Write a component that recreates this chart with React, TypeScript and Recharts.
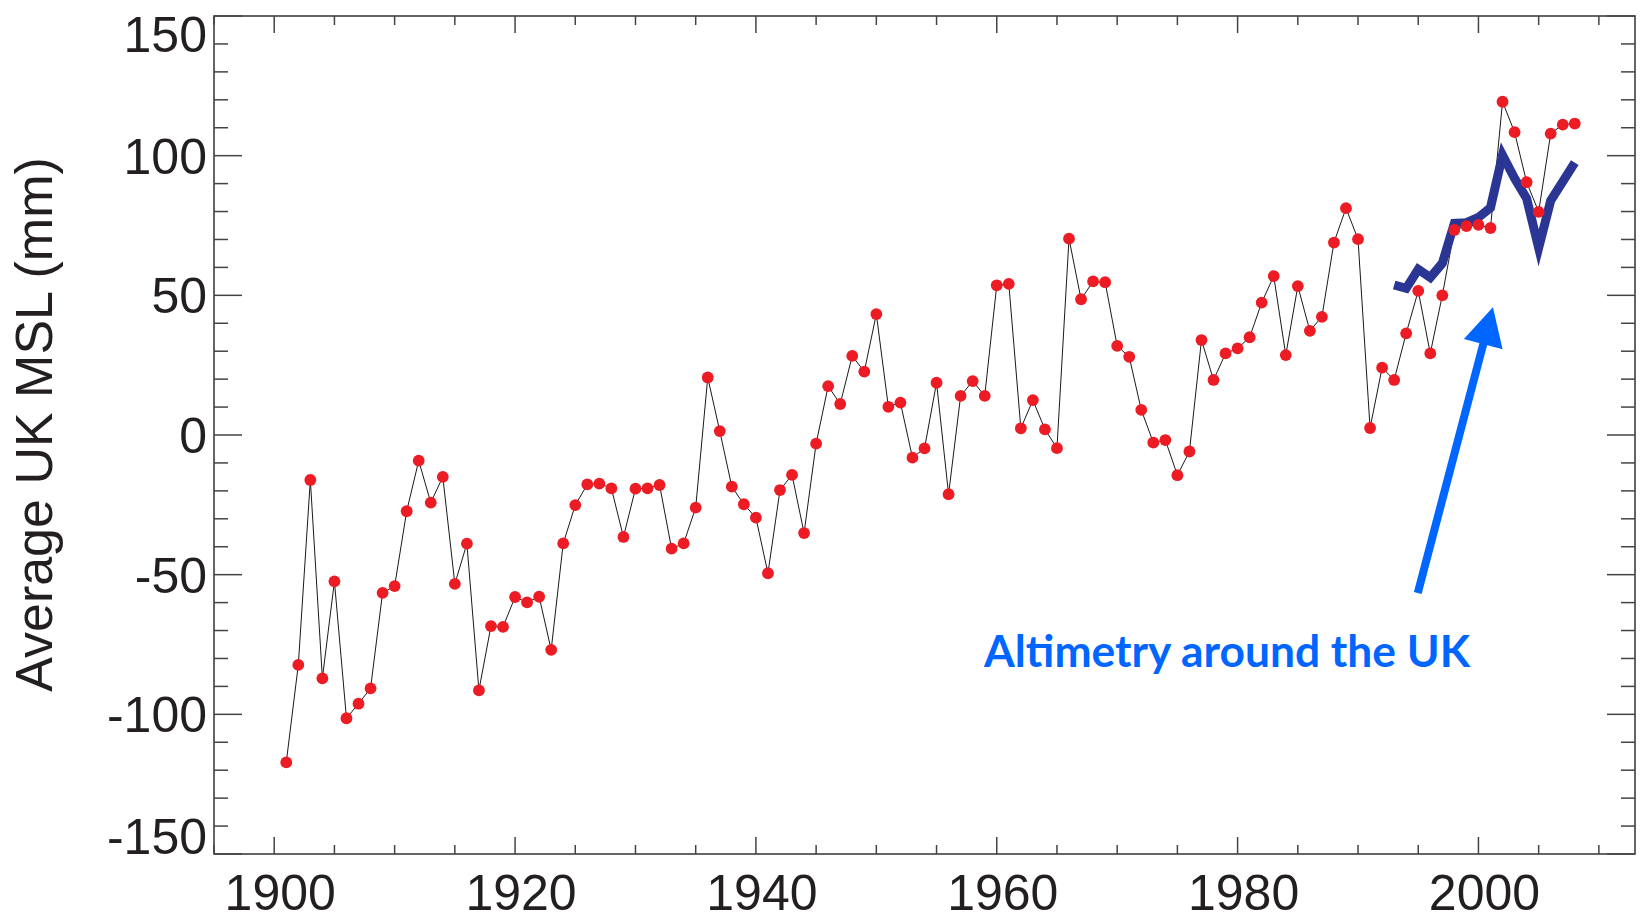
import React from 'react';
import {
  ComposedChart,
  Line,
  XAxis,
  YAxis,
  ReferenceArea,
  ReferenceLine,
  ReferenceDot,
  Label,
} from 'recharts';

// ---------- data ----------
const YEARS = [
  1901, 1902, 1903, 1904, 1905, 1906, 1907, 1908, 1909, 1910,
  1911, 1912, 1913, 1914, 1915, 1916, 1917, 1918, 1919, 1920,
  1921, 1922, 1923, 1924, 1925, 1926, 1927, 1928, 1929, 1930,
  1931, 1932, 1933, 1934, 1935, 1936, 1937, 1938, 1939, 1940,
  1941, 1942, 1943, 1944, 1945, 1946, 1947, 1948, 1949, 1950,
  1951, 1952, 1953, 1954, 1955, 1956, 1957, 1958, 1959, 1960,
  1961, 1962, 1963, 1964, 1965, 1966, 1967, 1968, 1969, 1970,
  1971, 1972, 1973, 1974, 1975, 1976, 1977, 1978, 1979, 1980,
  1981, 1982, 1983, 1984, 1985, 1986, 1987, 1988, 1989, 1990,
  1991, 1992, 1993, 1994, 1995, 1996, 1997, 1998, 1999, 2000,
  2001, 2002, 2003, 2004, 2005, 2006, 2007, 2008,
];

// Tide-gauge average UK mean sea level (mm)
const MSL = [
  -117.2, -82.3, -16.1, -87.1, -52.4, -101.4, -96.2, -90.7, -56.5, -54.1,
  -27.3, -9.2, -24.2, -15.0, -53.3, -38.9, -91.4, -68.4, -68.7, -58.0,
  -59.9, -57.9, -76.9, -38.8, -25.1, -17.7, -17.4, -19.1, -36.5, -19.2,
  -19.1, -17.9, -40.7, -38.8, -26.0, 20.6, 1.4, -18.5, -24.8, -29.6,
  -49.5, -19.7, -14.3, -35.1, -3.1, 17.5, 11.1, 28.3, 22.7, 43.3,
  10.1, 11.6, -8.1, -4.8, 18.7, -21.2, 14.0, 19.3, 14.0, 53.6,
  54.1, 2.4, 12.5, 2.0, -4.7, 70.3, 48.6, 55.0, 54.7, 31.9,
  28.0, 9.0, -2.7, -1.8, -14.4, -5.9, 34.0, 19.7, 29.2, 31.0,
  35.0, 47.4, 56.9, 28.6, 53.3, 37.3, 42.3, 68.9, 81.2, 70.1,
  2.5, 24.1, 19.7, 36.4, 51.6, 29.2, 50.0, 73.4, 74.8, 75.2,
  74.1, 119.3, 108.4, 90.5, 79.9, 107.9, 111.1, 111.5,
];

// Altimetry around the UK (mm)
const ALT_YEARS = [
  1993, 1994, 1995, 1996, 1997, 1998, 1999, 2000,
  2001, 2002, 2003, 2004, 2005, 2006, 2007, 2008,
];
const ALT = [
  53.7, 52.5, 59.3, 56.4, 61.5, 75.8, 76.0, 77.9,
  81.4, 100.2, 91.9, 84.7, 67.0, 83.9, 90.7, 97.5,
];

const X_TICKS = [
  1895, 1900, 1905, 1910, 1915, 1920, 1925, 1930, 1935, 1940, 1945, 1950,
  1955, 1960, 1965, 1970, 1975, 1980, 1985, 1990, 1995, 2000, 2005, 2010,
];
const Y_TICKS = [
  -150, -140, -130, -120, -110, -100, -90, -80, -70, -60, -50, -40, -30, -20, -10,
  0, 10, 20, 30, 40, 50, 60, 70, 80, 90, 100, 110, 120, 130, 140, 150,
];

const X_DOMAIN: [number, number] = [1895, 2013];
const Y_DOMAIN: [number, number] = [-150, 150];

const Y_LABEL = 'Average UK MSL (mm)';
const ANNOTATION = 'Altimetry around the UK';
// annotation anchors (data coordinates)
const ARROW_FROM = { x: 1994.96, y: -56.6 };
const ARROW_TO = { x: 2001.2, y: 45.7 };
const TEXT_AT = { x: 1958.95, y: -83.1 };

// ---------- layout ----------
const W = 1641;
const H = 922;
const PL = 214;
const PT = 16;
const PR = 1635;
const PB = 854;

const AXIS_FONT = '"Liberation Sans", Arial, Helvetica, sans-serif';
const TICK_COLOR = '#444';
const LABEL_COLOR = '#231f20';
const BLUE = '#0066ff';

const data = YEARS.map((year, i) => {
  const j = ALT_YEARS.indexOf(year);
  return { year, msl: MSL[i], alt: j >= 0 ? ALT[j] : null };
});

const XTick = (props: any) => {
  const { x, payload } = props;
  const v = payload.value as number;
  const major = v % 20 === 0;
  const len = major ? 17 : 9;
  return (
    <g>
      <line x1={x} y1={PB} x2={x} y2={PB - len} stroke={TICK_COLOR} strokeWidth={1.5} />
      <line x1={x} y1={PT} x2={x} y2={PT + len} stroke={TICK_COLOR} strokeWidth={1.5} />
      {major && (
        <text
          x={x + 6}
          y={910}
          textAnchor="middle"
          fontFamily={AXIS_FONT}
          fontSize={50}
          fill={LABEL_COLOR}
        >
          {v}
        </text>
      )}
    </g>
  );
};

const YTick = (props: any) => {
  const { y, payload } = props;
  const v = payload.value as number;
  const major = v % 50 === 0;
  const len = major ? 28 : 14;
  const half = 18;
  const cy = Math.min(Math.max(y, PT + half), PB - half);
  return (
    <g>
      <line x1={PL} y1={y} x2={PL + len} y2={y} stroke={TICK_COLOR} strokeWidth={1.5} />
      <line x1={PR} y1={y} x2={PR - len} y2={y} stroke={TICK_COLOR} strokeWidth={1.5} />
      {major && (
        <text
          x={PL - 7}
          y={cy + 18}
          textAnchor="end"
          fontFamily={AXIS_FONT}
          fontSize={50}
          fill={LABEL_COLOR}
        >
          {v}
        </text>
      )}
    </g>
  );
};

const ArrowShape = (props: any) => {
  const { x1, y1, x2, y2 } = props;
  const dx = x2 - x1;
  const dy = y2 - y1;
  const len = Math.sqrt(dx * dx + dy * dy) || 1;
  const ux = dx / len;
  const uy = dy / len;
  const headLen = 38;
  const headHalf = 20;
  const bx = x2 - ux * headLen;
  const by = y2 - uy * headLen;
  const px = -uy;
  const py = ux;
  const pts = `${x2},${y2} ${bx + px * headHalf},${by + py * headHalf} ${bx - px * headHalf},${by - py * headHalf}`;
  return (
    <g>
      <line x1={x1} y1={y1} x2={bx + ux * 2} y2={by + uy * 2} stroke={BLUE} strokeWidth={8} />
      <polygon points={pts} fill={BLUE} />
    </g>
  );
};

const TextShape = (props: any) => {
  const { cx, cy } = props;
  return (
    <text
      x={cx}
      y={cy}
      textAnchor="start"
      fontFamily='Lato, "Open Sans", sans-serif'
      fontWeight={700}
      fontSize={43}
      fill={BLUE}
      textLength={486}
      lengthAdjust="spacingAndGlyphs"
    >
      {ANNOTATION}
    </text>
  );
};

const YLabel = (props: any) => {
  const vb = props.viewBox || { x: 0, y: PT, width: PL, height: PB - PT };
  const cy = vb.y + vb.height / 2 - 10.5;
  const bx = 52;
  return (
    <text
      x={bx}
      y={cy}
      transform={`rotate(-90 ${bx} ${cy})`}
      textAnchor="middle"
      fontFamily={AXIS_FONT}
      fontSize={52}
      fill={LABEL_COLOR}
    >
      {Y_LABEL}
    </text>
  );
};

export default function App() {
  return (
    <div
      style={{
        position: 'absolute',
        left: 0,
        top: 0,
        width: W,
        height: H,
        background: '#ffffff',
      }}
    >
      <ComposedChart
        width={W}
        height={H}
        data={data}
        margin={{ top: PT, right: W - PR, bottom: 0, left: 0 }}
      >
        <XAxis
          dataKey="year"
          type="number"
          domain={X_DOMAIN}
          ticks={X_TICKS}
          interval={0}
          allowDataOverflow
          axisLine={false}
          tickLine={false}
          tickSize={0}
          tickMargin={0}
          height={H - PB}
          tick={(p: any) => <XTick {...p} />}
        />
        <YAxis
          type="number"
          domain={Y_DOMAIN}
          ticks={Y_TICKS}
          interval={0}
          allowDataOverflow
          axisLine={false}
          tickLine={false}
          tickSize={0}
          tickMargin={0}
          width={PL}
          tick={(p: any) => <YTick {...p} />}
        >
          <Label content={(p: any) => <YLabel {...p} />} />
        </YAxis>
        <ReferenceArea
          x1={X_DOMAIN[0]}
          x2={X_DOMAIN[1]}
          y1={Y_DOMAIN[0]}
          y2={Y_DOMAIN[1]}
          fill="none"
          fillOpacity={0}
          stroke="#333"
          strokeWidth={1.5}
          ifOverflow="visible"
        />
        <Line
          dataKey="msl"
          type="linear"
          stroke="none"
          dot={{ r: 5.9, fill: '#ed1c24', stroke: 'none', fillOpacity: 1 }}
          activeDot={false}
          isAnimationActive={false}
        />
        <Line
          dataKey="msl"
          type="linear"
          stroke="#1a1a1a"
          strokeWidth={1}
          dot={false}
          activeDot={false}
          isAnimationActive={false}
        />
        <Line
          dataKey="alt"
          type="linear"
          stroke="#2b3594"
          strokeWidth={9}
          strokeMiterlimit={10}
          strokeLinejoin="miter"
          dot={false}
          activeDot={false}
          connectNulls={false}
          isAnimationActive={false}
        />
        <ReferenceLine
          segment={[ARROW_FROM, ARROW_TO]}
          ifOverflow="visible"
          stroke={BLUE}
          shape={(p: any) => <ArrowShape {...p} />}
        />
        <ReferenceDot
          x={TEXT_AT.x}
          y={TEXT_AT.y}
          r={0}
          ifOverflow="visible"
          shape={(p: any) => <TextShape {...p} />}
        />
      </ComposedChart>
    </div>
  );
}
